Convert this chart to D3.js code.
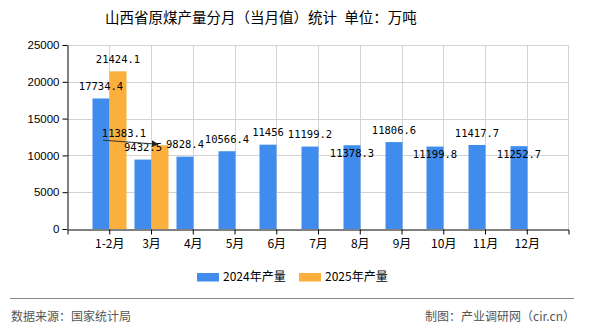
<!DOCTYPE html>
<html><head><meta charset="utf-8">
<script src="https://cdn.jsdelivr.net/npm/d3@7/dist/d3.min.js"></script>
<style>body{margin:0;background:#fff;}svg{display:block;}</style>
</head><body>
<script>
const categories = ["1-2月","3月","4月","5月","6月","7月","8月","9月","10月","11月","12月"];
const values2024 = [17734.4, 9432.5, 9828.4, 10566.4, 11456, 11199.2, 11378.3, 11806.6, 11199.8, 11417.7, 11252.7];
const values2025 = [21424.1, 11383.1, null, null, null, null, null, null, null, null, null];
const yTicks = [0, 5000, 10000, 15000, 20000, 25000];
const seriesNames = ["2024年产量", "2025年产量"];
const title = "山西省原煤产量分月（当月值）统计\u2002单位：万吨";
const sourceText = "数据来源：国家统计局";
const creditText = "制图：产业调研网（cir.cn）";

// label placement (layout only): -1 above bar, +1 below bar
const place2024 = [-1,-1,-1,-1,-1,-1,1,-1,1,-1,1];

const W = 590, H = 330;
const colors = ["#3f8bee", "#fbb03d"];
const svg = d3.select("body").append("svg").attr("width", W).attr("height", H);

const x = d3.scalePoint().domain(categories).range([67.5, 568.5]).padding(1);
const y = d3.scaleLinear().domain([0, 25000]).range([229, 45]);
const bw = 17;

// grid
const g = svg.append("g");
g.selectAll("line.h").data(yTicks.slice(1)).join("line")
  .attr("x1", 67.5).attr("x2", 568.5).attr("y1", d => Math.round(y(d)) + 0.5).attr("y2", d => Math.round(y(d)) + 0.5)
  .attr("stroke", "#d3d3d3").attr("stroke-width", 1);
g.selectAll("line.v").data(categories).join("line")
  .attr("x1", d => Math.round(x(d)) + 0.5).attr("x2", d => Math.round(x(d)) + 0.5)
  .attr("y1", 45).attr("y2", 229).attr("stroke", "#d3d3d3");
g.append("line").attr("x1", 568.5).attr("x2", 568.5).attr("y1", 45).attr("y2", 229).attr("stroke", "#d3d3d3");

// bars
svg.append("g").selectAll("rect").data(values2024).join("rect")
  .attr("x", (d, i) => Math.round(x(categories[i])) + 0.5 - bw)
  .attr("y", d => y(d)).attr("width", bw).attr("height", d => y(0) - y(d))
  .attr("fill", colors[0]);
svg.append("g").selectAll("rect").data(values2025.map((v, i) => ({v, i})).filter(d => d.v != null)).join("rect")
  .attr("x", d => Math.round(x(categories[d.i])) + 0.5)
  .attr("y", d => y(d.v)).attr("width", bw).attr("height", d => y(0) - y(d.v))
  .attr("fill", colors[1]);

// axes
const ya = svg.append("g").attr("transform", "translate(67.5,0)")
  .call(d3.axisLeft(y).tickValues(yTicks).tickSize(5).tickSizeOuter(0).tickPadding(3).tickFormat(d3.format("d")));
ya.selectAll("text").attr("font-family", "Liberation Sans, Arial, sans-serif").attr("font-size", 11.5).attr("fill", "#000");
ya.selectAll("line,path").attr("stroke", "#000");

const xa = svg.append("g").attr("transform", "translate(0,229.5)")
  .call(d3.axisBottom(x).tickSize(5).tickSizeOuter(5).tickPadding(5));
xa.selectAll("text").attr("font-family", "Noto Sans CJK SC, sans-serif").attr("font-size", 12).attr("fill", "#000");
xa.selectAll("line,path").attr("stroke", "#000");

// data labels
const lf = "DejaVu Sans Mono, Liberation Mono, monospace";
const lab = svg.append("g").attr("font-family", lf).attr("font-size", 10.5).attr("fill", "#000").attr("text-anchor", "middle");
values2024.forEach((v, i) => {
  const cx = Math.round(x(categories[i])) + 0.5 - bw / 2;
  const yy = y(v) + (place2024[i] < 0 ? -12 : 8);
  lab.append("text").attr("x", cx).attr("y", yy).attr("dy", "0.35em").text(v);
});
// 2025 labels
{
  const cx0 = Math.round(x(categories[0])) + 0.5 + bw / 2;
  lab.append("text").attr("x", cx0).attr("y", y(values2025[0]) - 12).attr("dy", "0.35em").text(values2025[0]);
  const cx1 = Math.round(x(categories[1])) + 0.5 + bw / 2;
  const ty = y(values2025[1]);
  lab.append("text").attr("x", cx1 - 36).attr("y", ty - 12).attr("dy", "0.35em").text(values2025[1]);
  svg.append("defs").append("marker").attr("id", "arr").attr("viewBox", "0 0 10 10").attr("refX", 9).attr("refY", 5)
    .attr("markerWidth", 7).attr("markerHeight", 7).attr("orient", "auto")
    .append("path").attr("d", "M0,0L10,5L0,10z").attr("fill", "#222");
  svg.append("line").attr("x1", cx1 - 57).attr("y1", ty - 5).attr("x2", cx1 - 2).attr("y2", ty - 1)
    .attr("stroke", "#333").attr("stroke-width", 1).attr("marker-end", "url(#arr)");
}

// title
svg.append("text").attr("x", 105).attr("y", 18).attr("dy", "0.35em").attr("text-anchor", "start")
  .attr("font-family", "Noto Sans CJK SC, sans-serif").attr("font-size", 14.5).attr("fill", "#000").text(title);

// legend
const lg = svg.append("g");
const lx = [197, 299];
seriesNames.forEach((n, i) => {
  lg.append("rect").attr("x", lx[i]).attr("y", 273).attr("width", 22).attr("height", 8.5).attr("fill", colors[i]);
  lg.append("text").attr("x", lx[i] + 26).attr("y", 277).attr("dy", "0.35em")
    .attr("font-family", "Noto Sans CJK SC, sans-serif").attr("font-size", 12).attr("fill", "#000").text(n);
});

// footer
svg.append("line").attr("x1", 10).attr("x2", 574).attr("y1", 298.5).attr("y2", 298.5).attr("stroke", "#888").attr("stroke-width", 1);
svg.append("text").attr("x", 11).attr("y", 317).attr("dy", "0.35em").attr("font-family", "Noto Sans CJK SC, sans-serif")
  .attr("font-size", 12).attr("fill", "#555").text(sourceText);
svg.append("text").attr("x", 575).attr("y", 317).attr("dy", "0.35em").attr("text-anchor", "end").attr("font-family", "Noto Sans CJK SC, sans-serif")
  .attr("font-size", 12).attr("fill", "#555").text(creditText);
</script>
</body></html>
